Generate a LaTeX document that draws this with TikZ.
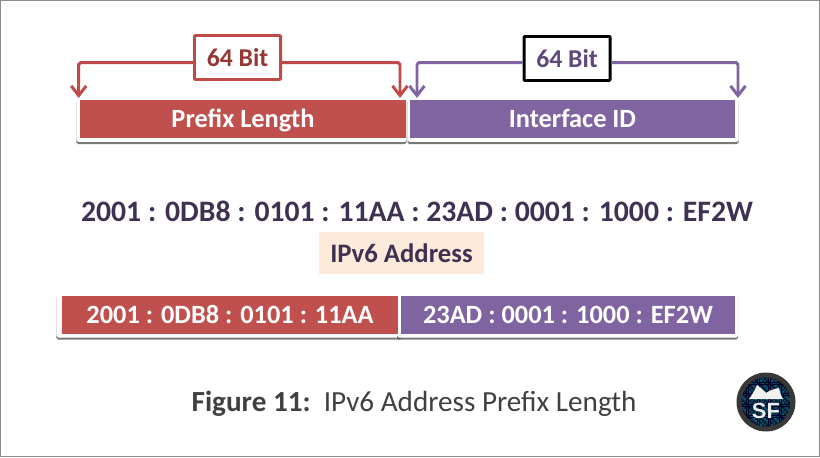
\documentclass[tikz,border=0pt]{standalone}
\usepackage{fontspec}
\setmainfont{Carlito}
\newfontfamily\logofont{Liberation Sans}
\usetikzlibrary{arrows.meta, positioning, shadows}
\definecolor{barred}{HTML}{C0504D}
\definecolor{linered}{HTML}{BE4B48}
\definecolor{textred}{HTML}{953735}
\definecolor{barpurple}{HTML}{8064A2}
\definecolor{textpurple}{HTML}{5F497A}
\definecolor{darkpurple}{HTML}{3F3151}
\definecolor{peach}{HTML}{FDEADA}
\definecolor{captiongray}{HTML}{404040}
\definecolor{logoblue}{HTML}{1474AE}
\tikzset{
  strip/.style={fill=white, rounded corners=1pt, inner sep=0pt,
    drop shadow={shadow xshift=0pt, shadow yshift=-1.2pt, fill=black!70, opacity=.75}},
  bar/.style={inner sep=0pt, text=white, text height=.33cm, text depth=.01cm, font=\fontsize{15}{17}\selectfont\bfseries},
  bitbox/.style={fill=white, inner sep=0pt, minimum width=1.72cm, minimum height=.88cm,
    line width=1.7pt, rounded corners=.5pt, font=\fontsize{14.6}{17}\selectfont\bfseries},
  span/.style={line width=1.7pt, rounded corners=1pt, -{Straight Barb[length=5.5pt, width=8.5pt, line width=1.7pt]}}
}
\begin{document}
\begin{tikzpicture}[scale=0.2]
\useasboundingbox (0,0) rectangle (82,-45.7);
\draw [black!45, line width=1.1pt] (0.05,-0.05) rectangle (81.95,-45.65);
% upper bars
\node [strip, minimum width=6.6cm, minimum height=.88cm] (stripA) at (24.15,-12.0) {};
\node [strip, minimum width=6.62cm, minimum height=.88cm] (stripB) at (57.3,-12.0) {};
\node [bar, fill=barred, minimum width=6.52cm, minimum height=.76cm] (prefix) at (24.3,-11.95) {Prefix Length};
\node [bar, fill=barpurple, minimum width=6.5cm, minimum height=.76cm] (iface) at (57.25,-11.95) {Interface ID};
% 64 bit labels
\coordinate (tipA) at (7.87,-9.8);
\coordinate (tipB) at (40.0,-9.8);
\coordinate (tipC) at (41.7,-9.8);
\coordinate (tipD) at (73.8,-9.8);
\node [bitbox, draw=linered, text=textred] (bitA) at (23.75,-5.75) {64 Bit};
\node [bitbox, draw=black, text=textpurple] (bitB) at (56.7,-5.85) {64 Bit};
\draw [span, linered] (bitA.west |- 0,-6.27) -| (tipA);
\draw [span, linered] (bitA.east |- 0,-6.27) -| (tipB);
\draw [span, barpurple] (bitB.west |- 0,-6.27) -| (tipC);
\draw [span, barpurple] (bitB.east |- 0,-6.27) -| (tipD);
% address
\node [text=darkpurple, inner sep=0pt, font=\fontsize{16.9}{19}\selectfont\bfseries] (addr) at (41.7,-21.1)
  {2001 : 0DB8 : 0101 : 11AA : 23AD : 0001 : 1000 : EF2W};
\node [fill=peach, text=darkpurple, inner sep=0pt, minimum width=3.3cm, minimum height=.84cm,
  font=\fontsize{15.2}{17}\selectfont\bfseries] (ipv6) at (40.15,-25.3) {IPv6 Address};
% lower bars
\node [strip, minimum width=6.9cm, minimum height=.88cm] (stripC) at (22.9,-31.55) {};
\node [strip, minimum width=6.82cm, minimum height=.88cm] (stripD) at (56.75,-31.55) {};
\node [bar, fill=barred, minimum width=6.7cm, minimum height=.76cm] (left) at (23.0,-31.5) {2001 : 0DB8 : 0101 : 11AA};
\node [bar, fill=barpurple, minimum width=6.68cm, minimum height=.76cm] (right) at (56.8,-31.5) {23AD : 0001 : 1000 : EF2W};
% caption
\node [text=captiongray, inner sep=0pt, font=\fontsize{16.6}{19}\selectfont] (caption) at (41.4,-40.4)
  {\textbf{Figure 11:}\ \ IPv6 Address Prefix Length};
% logo
\fill [black!78] (76.6,-40.2) circle (2.95);
\begin{scope}
\clip (76.6,-40.2) circle (2.45);
\fill [black!85!blue] (76.6,-40.2) circle (2.45);
\foreach \i in {0,...,24} {
  \foreach \j in {0,...,24} {
    \pgfmathsetmacro{\shade}{mod(\i*7+\j*13,5)*12+22}
    \fill [logoblue!\shade!black] (74.0+\i*0.22,-37.6-\j*0.22) rectangle ++(0.17,-0.17);
  }
}
\end{scope}
\fill [black!5] (76.6,-39.3) .. controls (76.2,-38.9) and (76.0,-38.7) .. (75.7,-38.5)
  .. controls (75.5,-39.0) and (75.2,-39.5) .. (74.9,-39.9) -- (76.6,-39.9) -- cycle;
\fill [black!5] (76.6,-39.3) .. controls (77.0,-39.0) and (77.4,-38.9) .. (77.9,-38.8)
  .. controls (78.0,-39.2) and (78.1,-39.6) .. (78.3,-39.9) -- (76.6,-39.9) -- cycle;
\node [text=black!8, inner sep=0pt, font=\fontsize{12.5}{14}\selectfont\logofont\bfseries] (sf) at (76.6,-41.1) {SF};
\end{tikzpicture}
\end{document}
